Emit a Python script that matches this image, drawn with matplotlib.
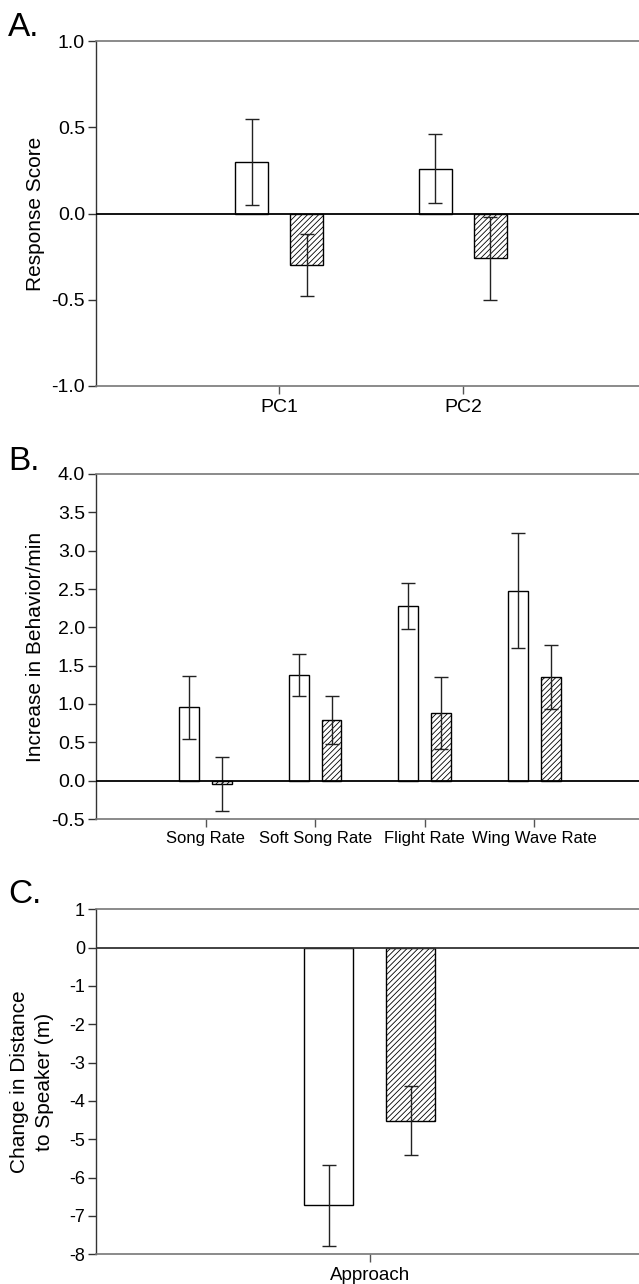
import numpy as np
import matplotlib
matplotlib.use('Agg')
import matplotlib.pyplot as plt

plt.rcParams['font.family'] = ['Liberation Sans', 'DejaVu Sans']
plt.rcParams['hatch.linewidth'] = 0.6
plt.rcParams['hatch.color'] = 'black'

'~~~~~~~~~~ DATA ~~~~~~~~~~'
# panel A
cats_a = ['PC1', 'PC2']
white_a = [0.30, 0.26]
white_a_err = [0.25, 0.20]
hatch_a = [-0.30, -0.26]
hatch_a_err = [0.18, 0.24]

# panel B
cats_b = ['Song Rate', 'Soft Song Rate', 'Flight Rate', 'Wing Wave Rate']
white_b = [0.96, 1.38, 2.28, 2.48]
white_b_err = [0.41, 0.27, 0.30, 0.745]
hatch_b = [-0.04, 0.79, 0.88, 1.35]
hatch_b_err = [0.35, 0.31, 0.47, 0.42]

# panel C
cats_c = ['Approach']
white_c = [-6.72]
white_c_err = [1.06]
hatch_c = [-4.52]
hatch_c_err = [0.90]

W, H = 639, 1284
fig = plt.figure(figsize=(W / 100, H / 100), dpi=100)

width = 0.18
off = 0.15


def panel(top_px, bot_px, cats, white, werr, hatch, herr, xmax, ylim, yticks, ytl,
          ylabel, letter, letter_y, xfs=13, yfs=14, ylab_x=44, lfs=15, zcol='black'):
    left = 96 / W
    ax = fig.add_axes([left, 1 - bot_px / H, 1 - left, (bot_px - top_px) / H])
    x = np.arange(1, len(cats) + 1)
    ekw = dict(ecolor='#222222', elinewidth=1.0, capsize=5, capthick=1.0)
    ax.bar(x - off, white, width, color='white', edgecolor='black', linewidth=1.0,
           yerr=werr, error_kw=ekw, zorder=2)
    ax.bar(x + off, hatch, width, color='white', edgecolor='black', linewidth=1.0,
           hatch='//////', yerr=herr, error_kw=ekw, zorder=2)
    ax.axhline(0, color=zcol, lw=1.3, zorder=3)
    ax.set_xlim(0, xmax)
    ax.set_ylim(*ylim)
    ax.set_yticks(yticks)
    ax.set_yticklabels(ytl, fontsize=yfs)
    ax.set_xticks(x)
    ax.set_xticklabels(cats, fontsize=xfs)
    ax.spines['right'].set_visible(False)
    for s in ['top', 'bottom']:
        ax.spines[s].set_color('#777777')
        ax.spines[s].set_linewidth(1.2)
    ax.spines['left'].set_color('#333333')
    ax.spines['left'].set_linewidth(1.0)
    ax.tick_params(axis='y', length=6, width=1, color='#333333', pad=2)
    ax.tick_params(axis='x', length=6, width=1, color='#555555', pad=3)
    ax.set_ylabel(ylabel, fontsize=lfs, linespacing=1.4)
    ax.yaxis.set_label_coords((ylab_x - 96) / (W - 96), 0.5)
    fig.text(8 / W, 1 - letter_y / H, letter, fontsize=24, va='baseline', ha='left')
    return ax


panel(41, 386, cats_a, white_a, white_a_err, hatch_a, hatch_a_err, 2.96,
      (-1.0, 1.0), [-1.0, -0.5, 0.0, 0.5, 1.0], ['-1.0', '-0.5', '0.0', '0.5', '1.0'],
      'Response Score', 'A.', 36, xfs=14, yfs=14, ylab_x=45)

yb = np.arange(-0.5, 4.01, 0.5)
panel(474, 819, cats_b, white_b, white_b_err, hatch_b, hatch_b_err, 4.955,
      (-0.5, 4.0), yb, ['%.1f' % v for v in yb],
      'Increase in Behavior/min', 'B.', 470, xfs=12, yfs=14, ylab_x=45)

yc = np.arange(-8, 2)
panel(909.3, 1254.3, cats_c, white_c, white_c_err, hatch_c, hatch_c_err, 1.984,
      (-8, 1), yc, ['%d' % v for v in yc],
      'Change in Distance\nto Speaker (m)', 'C.', 903, xfs=13.5, yfs=13, ylab_x=54,
      zcol='#333333')

plt.savefig('out.png', dpi=100)
